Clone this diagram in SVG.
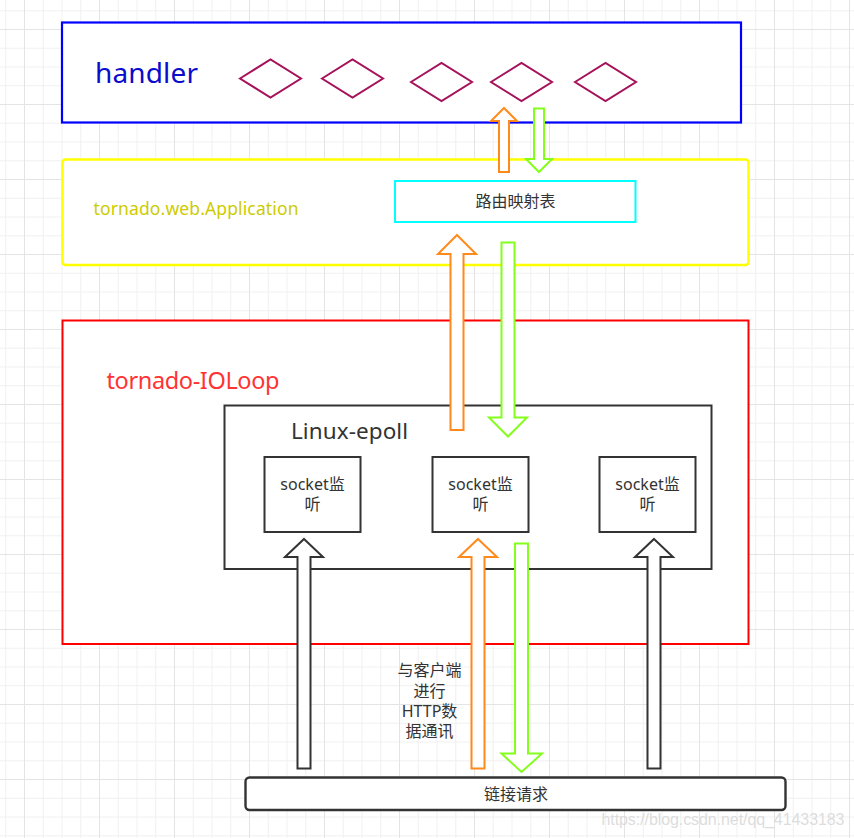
<svg xmlns="http://www.w3.org/2000/svg" width="854" height="838" viewBox="0 0 854 838">
<style>
.t{font-family:"Noto Sans","Noto Sans CJK SC",sans-serif;}
.lbl{font-size:16px;fill:#333;text-anchor:middle;}
.box{fill:#fff;stroke:#333;stroke-width:2;}
.dia{fill:#fff;stroke:#a5125a;stroke-width:2;}
.ao{fill:#fff;stroke:#ff8a1c;stroke-width:2;stroke-linejoin:miter;}
.ag{fill:#fff;stroke:#84ff1c;stroke-width:2;stroke-linejoin:miter;}
.ad{fill:#fff;stroke:#333;stroke-width:2;stroke-linejoin:miter;}
</style>
<defs>
<pattern id="grid" patternUnits="userSpaceOnUse" x="24" y="29" width="75" height="75">
<rect x="0" y="0" width="75" height="75" fill="#fff"/>
<rect x="18.75" y="0" width="1" height="75" fill="#f1f1f1"/>
<rect x="37.5" y="0" width="1" height="75" fill="#f1f1f1"/>
<rect x="56.25" y="0" width="1" height="75" fill="#f1f1f1"/>
<rect x="0" y="18.75" width="75" height="1" fill="#f1f1f1"/>
<rect x="0" y="37.5" width="75" height="1" fill="#f1f1f1"/>
<rect x="0" y="56.25" width="75" height="1" fill="#f1f1f1"/>
<rect x="0" y="0" width="1" height="75" fill="#e4e4e4"/>
<rect x="0" y="0" width="75" height="1" fill="#e4e4e4"/>
</pattern>
</defs>
<rect x="0" y="0" width="854" height="838" fill="url(#grid)"/>

<g id="handler">
<rect x="62" y="22.5" width="679" height="100" fill="#fff" stroke="#0000ff" stroke-width="2.2"/>
<text class="t" x="95" y="83" font-size="28" fill="#0b0bcc" textLength="103">handler</text>
<polygon class="dia" points="240,78.5 270.5,59.5 301,78.5 270.5,97.5"/>
<polygon class="dia" points="322,78.5 352.5,59.5 383,78.5 352.5,97.5"/>
<polygon class="dia" points="411,82 441.5,63 472,82 441.5,101"/>
<polygon class="dia" points="491,82 521.5,63 552,82 521.5,101"/>
<polygon class="dia" points="575,82 605.5,63 636,82 605.5,101"/>
</g>

<g id="application">
<rect x="62.5" y="159.5" width="686" height="105.5" rx="3" fill="#fff" stroke="#ffff00" stroke-width="2.5"/>
<text class="t" x="93.5" y="215" font-size="17.5" fill="#cccc00" textLength="205">tornado.web.Application</text>
</g>

<g id="route-table">
<rect x="395" y="181" width="240.5" height="41" fill="#fff" stroke="#00ffff" stroke-width="2"/>
<text class="t lbl" x="515.5" y="207">路由映射表</text>
</g>

<g id="ioloop">
<rect x="62.5" y="320.5" width="686" height="323.5" fill="#fff" stroke="#ff0000" stroke-width="2"/>
<text class="t" x="106.5" y="388.5" font-size="23.5" fill="#ff3333" textLength="173">tornado-IOLoop</text>
</g>

<g id="linux-epoll">
<rect class="box" x="224.5" y="405.5" width="487" height="163.5"/>
<text class="t" x="291" y="438.5" font-size="22.5" fill="#333" textLength="117">Linux-epoll</text>
</g>

<g id="socket1">
<rect class="box" x="264.5" y="457" width="96" height="75"/>
<text class="t lbl" x="312.5" y="490">socket监</text>
<text class="t lbl" x="312.5" y="510">听</text>
</g>
<g id="socket2">
<rect class="box" x="432.5" y="457" width="96" height="75"/>
<text class="t lbl" x="480.5" y="490">socket监</text>
<text class="t lbl" x="480.5" y="510">听</text>
</g>
<g id="socket3">
<rect class="box" x="599.5" y="457" width="96" height="75"/>
<text class="t lbl" x="647.5" y="490">socket监</text>
<text class="t lbl" x="647.5" y="510">听</text>
</g>

<g id="http-note">
<text class="t lbl" x="429.5" y="676">与客户端</text>
<text class="t lbl" x="429.5" y="696.5">进行</text>
<text class="t lbl" x="429.5" y="716.5">HTTP数</text>
<text class="t lbl" x="429.5" y="736.5">据通讯</text>
</g>

<g id="connect-request">
<rect x="245.5" y="777.5" width="540" height="32.5" rx="4" fill="#fff" stroke="#333" stroke-width="2.4"/>
<text class="t lbl" x="516" y="799.5">链接请求</text>
</g>

<g id="connectors">
<polygon class="ao" points="504,108 517,121 509,121 509,172 499,172 499,121 491,121"/>
<polygon class="ag" points="534,108.5 544,108.5 544,159 552,159 539,172 526,159 534,159"/>
<polygon class="ao" points="457,235 476,254 463.5,254 463.5,430 450.5,430 450.5,254 438,254"/>
<polygon class="ag" points="501.5,242.5 514.5,242.5 514.5,417.5 527,417.5 508,436.5 489,417.5 501.5,417.5"/>
<polygon class="ad" points="304,539 323,557 310.5,557 310.5,768.5 297.5,768.5 297.5,557 285,557"/>
<polygon class="ao" points="478,539 497,557 484.5,557 484.5,768.5 471.5,768.5 471.5,557 459,557"/>
<polygon class="ag" points="515,543.5 528,543.5 528,753.5 542,753.5 521.5,772 501.5,753.5 515,753.5"/>
<polygon class="ad" points="654,539 673,557 660.5,557 660.5,768.5 647.5,768.5 647.5,557 635,557"/>
</g>

<text x="601.5" y="824.5" font-family="Liberation Sans, Arial, sans-serif" font-size="16" fill="#d4d4d4" fill-opacity="0.8" textLength="243">https://blog.csdn.net/qq_41433183</text>
</svg>
